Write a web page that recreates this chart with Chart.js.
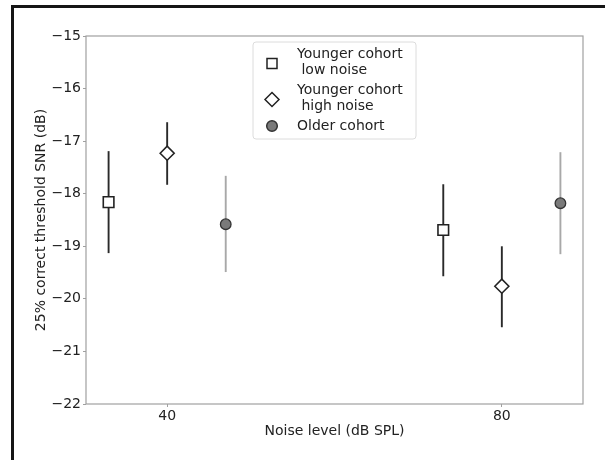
<!DOCTYPE html>
<html lang="en">
<head>
    <meta charset="UTF-8">
    <title>Threshold SNR by noise level</title>
    <script src="https://cdnjs.cloudflare.com/ajax/libs/Chart.js/4.4.1/chart.umd.min.js"></script>
    <style>
        body { margin: 0; background: #fff; }
        #wrap { position: relative; width: 605px; height: 460px; overflow: hidden; }
        #frame { position: absolute; left: 11px; top: 5px; width: 700px; height: 600px;
                 border-top: 3px solid #151515; border-left: 3px solid #151515; }
        canvas { position: absolute; left: 0; top: 0; }
    </style>
</head>
<body>
<div id="wrap">
    <div id="frame"></div>
    <canvas id="snrChart" width="605" height="460"></canvas>
</div>
<script>
// noise level ticks and y ticks
const xTicks = [40, 80];
const yTicks = [-22, -21, -20, -19, -18, -17, -16, -15];

// younger cohort, low noise (square)
const youngLowX = [33, 73];
const youngLowMean = [-18.16, -18.69];
const youngLowLo = [-19.13, -19.57];
const youngLowHi = [-17.19, -17.82];

// younger cohort, high noise (diamond)
const youngHighX = [40, 80];
const youngHighMean = [-17.23, -19.76];
const youngHighLo = [-17.83, -20.54];
const youngHighHi = [-16.64, -19.00];

// older cohort (circle)
const olderX = [47, 87];
const olderMean = [-18.58, -18.18];
const olderLo = [-19.49, -19.15];
const olderHi = [-17.66, -17.21];

const FONT = 'DejaVu Sans';
const FS = 14;
const minus = v => (v < 0 ? '\u2212' : '') + Math.abs(v);

function points(xs, ys) {
    return xs.map((x, i) => ({ x: x, y: ys[i] }));
}

function errorBars(xs, lo, hi, color, width) {
    return xs.map((x, i) => ({
        type: 'line',
        data: [{ x: x, y: lo[i] }, { x: x, y: hi[i] }],
        showLine: true,
        borderColor: color,
        borderWidth: width,
        pointRadius: 0,
        order: 2
    }));
}

const series = [
    { label: ['Younger cohort', ' low noise'], style: 'rect', fill: '#ffffff', edge: '#222' },
    { label: ['Younger cohort', ' high noise'], style: 'rectRot', fill: '#ffffff', edge: '#222' },
    { label: ['Older cohort'], style: 'circle', fill: '#7a7a7a', edge: '#333' }
];

const datasets = [
    { label: 'Younger cohort low noise', data: points(youngLowX, youngLowMean), pointStyle: 'rect',
      pointRadius: 7.5, pointBackgroundColor: '#fff', pointBorderColor: '#222', pointBorderWidth: 1.6, order: 0 },
    { label: 'Younger cohort high noise', data: points(youngHighX, youngHighMean), pointStyle: 'rectRot',
      pointRadius: 7, pointBackgroundColor: '#fff', pointBorderColor: '#222', pointBorderWidth: 1.6, order: 0 },
    { label: 'Older cohort', data: points(olderX, olderMean), pointStyle: 'circle',
      pointRadius: 5.3, pointBackgroundColor: '#7a7a7a', pointBorderColor: '#333', pointBorderWidth: 1.3, order: 0 }
].concat(
    errorBars(youngLowX, youngLowLo, youngLowHi, '#2a2a2a', 1.9),
    errorBars(youngHighX, youngHighLo, youngHighHi, '#2a2a2a', 1.9),
    errorBars(olderX, olderLo, olderHi, '#a8a8a8', 1.9)
);

// box around the plot area
const framePlugin = {
    id: 'frame',
    beforeDatasetsDraw(chart) {
        const a = chart.chartArea, ctx = chart.ctx;
        ctx.save();
        ctx.strokeStyle = '#a0a0a0';
        ctx.lineWidth = 1.2;
        ctx.strokeRect(a.left, a.top, a.right - a.left, a.bottom - a.top);
        ctx.restore();
    }
};

// matplotlib style legend with two-line labels
const legendPlugin = {
    id: 'mplLegend',
    afterDraw(chart) {
        const a = chart.chartArea, ctx = chart.ctx;
        const x0 = a.left + 167, y0 = a.top + 6, w = 163, h = 97;
        ctx.save();
        ctx.beginPath();
        ctx.roundRect(x0, y0, w, h, 3);
        ctx.fillStyle = 'rgba(255,255,255,0.85)';
        ctx.fill();
        ctx.strokeStyle = '#dcdcdc';
        ctx.lineWidth = 1;
        ctx.stroke();
        ctx.font = FS + 'px "' + FONT + '"';
        ctx.textBaseline = 'middle';
        const lineH = 16;
        let y = y0 + 12;
        series.forEach(s => {
            const n = s.label.length;
            const my = y + (n - 1) * lineH / 2 + (n > 1 ? 1.5 : 0);
            ctx.beginPath();
            ctx.fillStyle = s.fill;
            ctx.strokeStyle = s.edge;
            ctx.lineWidth = 1.5;
            const mx = x0 + 19;
            if (s.style === 'rect') {
                ctx.rect(mx - 5, my - 5, 10, 10);
            } else if (s.style === 'rectRot') {
                ctx.moveTo(mx, my - 7); ctx.lineTo(mx + 7, my);
                ctx.lineTo(mx, my + 7); ctx.lineTo(mx - 7, my); ctx.closePath();
            } else {
                ctx.arc(mx, my, 5.3, 0, Math.PI * 2);
            }
            ctx.fill();
            ctx.stroke();
            ctx.fillStyle = '#222';
            s.label.forEach((t, k) => ctx.fillText(t, x0 + 44, y + k * lineH));
            y += n * lineH + (n > 1 ? 4 : 0);
        });
        ctx.restore();
    }
};

const ctx = document.getElementById('snrChart').getContext('2d');
new Chart(ctx, {
    type: 'scatter',
    data: { datasets: datasets },
    options: {
        responsive: false,
        animation: false,
        layout: { padding: { left: 30, top: 36, right: 22, bottom: 20 } },
        plugins: { legend: { display: false }, tooltip: { enabled: false } },
        scales: {
            x: {
                type: 'linear',
                min: 30.3,
                max: 89.7,
                afterBuildTicks: s => { s.ticks = xTicks.map(v => ({ value: v })); },
                afterFit: s => { s.height = 36; },
                grid: { drawOnChartArea: false, drawTicks: true, tickLength: 3, color: '#a0a0a0' },
                border: { display: false },
                ticks: { color: '#222', font: { family: FONT, size: FS }, padding: 1, maxRotation: 0 },
                title: { display: true, text: 'Noise level (dB SPL)', color: '#222',
                         font: { family: FONT, size: FS }, padding: 0 }
            },
            y: {
                min: -22,
                max: -15,
                afterBuildTicks: s => { s.ticks = yTicks.map(v => ({ value: v })); },
                afterFit: s => { s.width = 56; },
                grid: { drawOnChartArea: false, drawTicks: true, tickLength: 3, color: '#a0a0a0' },
                border: { display: false },
                ticks: { color: '#222', font: { family: FONT, size: FS }, padding: 2, callback: minus },
                title: { display: true, text: '25% correct threshold SNR (dB)', color: '#222',
                         font: { family: FONT, size: FS }, padding: 3 }
            }
        }
    },
    plugins: [framePlugin, legendPlugin]
});
</script>
</body>
</html>
